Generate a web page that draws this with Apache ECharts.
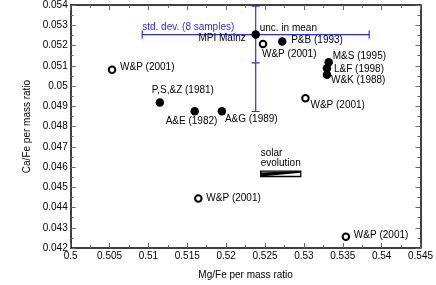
<!DOCTYPE html>
<html><head><meta charset="utf-8">
<script src="https://cdn.jsdelivr.net/npm/echarts@6/dist/echarts.min.js"></script>
<style>html,body{margin:0;padding:0;background:#fff}#c{width:436px;height:285px}</style>
</head><body><div id="c"></div>
<script>
// ---- data ----
const filledNames = ['P,S,&Z (1981)', 'A&E (1982)', 'A&G (1989)', 'P&B (1993)', 'M&S (1995)', 'L&F (1998)', 'W&K (1988)', 'MPI Mainz'];
const filledX = [0.51147, 0.51595, 0.51945, 0.52721, 0.53319, 0.53297, 0.53297, 0.5238];
const filledY = [0.04919, 0.04875, 0.04875, 0.05220, 0.05117, 0.05088, 0.05056, 0.05254];
const openNames = ['W&P (2001)', 'W&P (2001)', 'W&P (2001)', 'W&P (2001)', 'W&P (2001)'];
const openX = [0.50532, 0.52474, 0.5302, 0.51642, 0.5354];
const openY = [0.0508, 0.05207, 0.0494, 0.04444, 0.04256];
const errCenter = [0.5238, 0.05254];
const stdDev = [0.0146, 0.0038];
const uncMean = [0.00516, 0.0014];
const solarBox = [0.52444, 0.04553, 0.5296, 0.0458];
const xTicks = { min: 0.5, max: 0.545, step: 0.005 };
const yTicks = { min: 0.042, max: 0.054, step: 0.001 };

// label placements (style)
const filledLbl = [
  { align: 'left', off: [-8, -12] },
  { align: 'left', off: [-29, 10] },
  { align: 'left', off: [3, 8] },
  { align: 'left', off: [9, -1] },
  { align: 'left', off: [4, -6] },
  { align: 'left', off: [7, 1] },
  { align: 'left', off: [4, 6] },
  { align: 'right', off: [-10, 4] }
];
const openLbl = [
  { align: 'left', off: [8, -3] },
  { align: 'left', off: [-1, 10] },
  { align: 'left', off: [5, 7] },
  { align: 'left', off: [8, 0] },
  { align: 'left', off: [8, -1] }
];

const FONT = 'Liberation Sans';
const BLUE = '#2b2bff';

function mkData(xs, ys, names, lbls) {
  return xs.map((x, i) => ({
    value: [x, ys[i]], name: names[i],
    label: { show: true, position: 'inside', align: lbls[i].align, verticalAlign: 'middle',
      offset: lbls[i].off, formatter: names[i], color: '#000', fontFamily: FONT, fontSize: 10 }
  }));
}

const chart = echarts.init(document.getElementById('c'), null, { renderer: 'canvas' });
const fmt = v => String(+v.toFixed(4));
const axisCommon = {
  type: 'value', splitLine: { show: false },
  axisLine: { show: true, onZero: false, lineStyle: { color: '#000', width: 1.5 } },
  axisTick: { show: true, inside: true, length: 5, lineStyle: { color: '#666', width: 1 } },
  minorTick: { show: true, splitNumber: 2, length: 3, lineStyle: { color: '#666', width: 1 } },
  minorSplitLine: { show: false }
};

chart.setOption({
  animation: false,
  grid: { left: 70.7, right: 13.7, top: 4.7, bottom: 34.3 },
  xAxis: [
    Object.assign({}, axisCommon, { min: xTicks.min, max: xTicks.max, interval: xTicks.step, position: 'bottom',
      name: 'Mg/Fe per mass ratio', nameLocation: 'middle', nameGap: 22,
      nameTextStyle: { fontFamily: FONT, fontSize: 10, color: '#000' },
      axisLabel: { formatter: fmt, fontFamily: FONT, fontSize: 10, color: '#000', margin: 3 } }),
    Object.assign({}, axisCommon, { min: xTicks.min, max: xTicks.max, interval: xTicks.step, position: 'top',
      axisLabel: { show: false } })
  ],
  yAxis: [
    Object.assign({}, axisCommon, { min: yTicks.min, max: yTicks.max, interval: yTicks.step, position: 'left',
      name: 'Ca/Fe per mass ratio', nameLocation: 'middle', nameGap: 34,
      nameTextStyle: { fontFamily: FONT, fontSize: 10, color: '#000' },
      axisLabel: { formatter: fmt, fontFamily: FONT, fontSize: 10, color: '#000', margin: 3 } }),
    Object.assign({}, axisCommon, { min: yTicks.min, max: yTicks.max, interval: yTicks.step, position: 'right',
      axisLabel: { show: false } })
  ],
  series: [
    {
      type: 'custom', xAxisIndex: 0, yAxisIndex: 0, z: 1,
      data: [[errCenter[0], errCenter[1], stdDev[0], stdDev[1], uncMean[0], uncMean[1]]],
      renderItem: function (params, api) {
        const cx = api.value(0), cy = api.value(1), sx = api.value(2), sy = api.value(3), uy = api.value(5);
        const L = api.coord([cx - sx, cy]), R = api.coord([cx + sx, cy]);
        const T = api.coord([cx, cy + sy]), B = api.coord([cx, cy - sy]);
        const UT = api.coord([cx, cy + uy]), UB = api.coord([cx, cy - uy]);
        const st = { stroke: BLUE, lineWidth: 1.2 };
        const ln = (x1, y1, x2, y2) => ({ type: 'line', shape: { x1, y1, x2, y2 }, style: st });
        const cs = params.coordSys;
        const c = 4;
        return {
          type: 'group',
          clipPath: { type: 'rect', shape: { x: cs.x, y: cs.y, width: cs.width, height: cs.height } },
          children: [
            ln(L[0], L[1], R[0], R[1]),
            ln(L[0], L[1] - c, L[0], L[1] + c),
            ln(R[0], R[1] - c, R[0], R[1] + c),
            ln(T[0], T[1], B[0], B[1]),
            ln(B[0] - c, B[1], B[0] + c, B[1]),
            ln(T[0] - c, T[1], T[0] + c, T[1]),
            ln(UT[0] - c, UT[1], UT[0] + c, UT[1]),
            ln(UB[0] - c, UB[1], UB[0] + c, UB[1]),
            { type: 'text', style: { text: 'std. dev. (8 samples)', x: L[0], y: L[1] - 2, textAlign: 'left', textVerticalAlign: 'bottom',
                fill: BLUE, font: '10px "' + FONT + '"' } },
            { type: 'text', style: { text: 'unc. in mean', x: L[0] + (R[0]-L[0])/2 + 4, y: L[1] - 1, textAlign: 'left', textVerticalAlign: 'bottom',
                fill: '#000', font: '10px "' + FONT + '"' } }
          ]
        };
      }
    },
    {
      type: 'custom', z: 1,
      data: [solarBox],
      renderItem: function (params, api) {
        const p0 = api.coord([api.value(0), api.value(3)]);
        const p1 = api.coord([api.value(2), api.value(1)]);
        const x0 = p0[0], y0 = p0[1], x1 = p1[0], y1 = p1[1];
        const h = y1 - y0;
        return {
          type: 'group', children: [
            { type: 'polygon', shape: { points: [[x0, y1], [x0, y0 + h * 0.25], [x1, y0], [x1, y0 + h * 0.3]] }, style: { fill: '#000' } },
            { type: 'rect', shape: { x: x0, y: y0, width: x1 - x0, height: h }, style: { fill: 'none', stroke: '#000', lineWidth: 1.3 } },
            { type: 'text', style: { text: 'solar\nevolution', x: x0, y: y0 - 3, textAlign: 'left', textVerticalAlign: 'bottom',
                fill: '#000', font: '10px "' + FONT + '"', lineHeight: 10 } }
          ]
        };
      }
    },
    {
      type: 'scatter', symbol: 'circle', symbolSize: 8.5, z: 3,
      itemStyle: { color: '#000', opacity: 1 },
      data: mkData(filledX, filledY, filledNames, filledLbl)
    },
    {
      type: 'scatter', symbol: 'circle', symbolSize: 6.5, z: 3,
      itemStyle: { color: '#fff', borderColor: '#000', borderWidth: 2, opacity: 1 },
      data: mkData(openX, openY, openNames, openLbl)
    }
  ]
});
</script></body></html>
